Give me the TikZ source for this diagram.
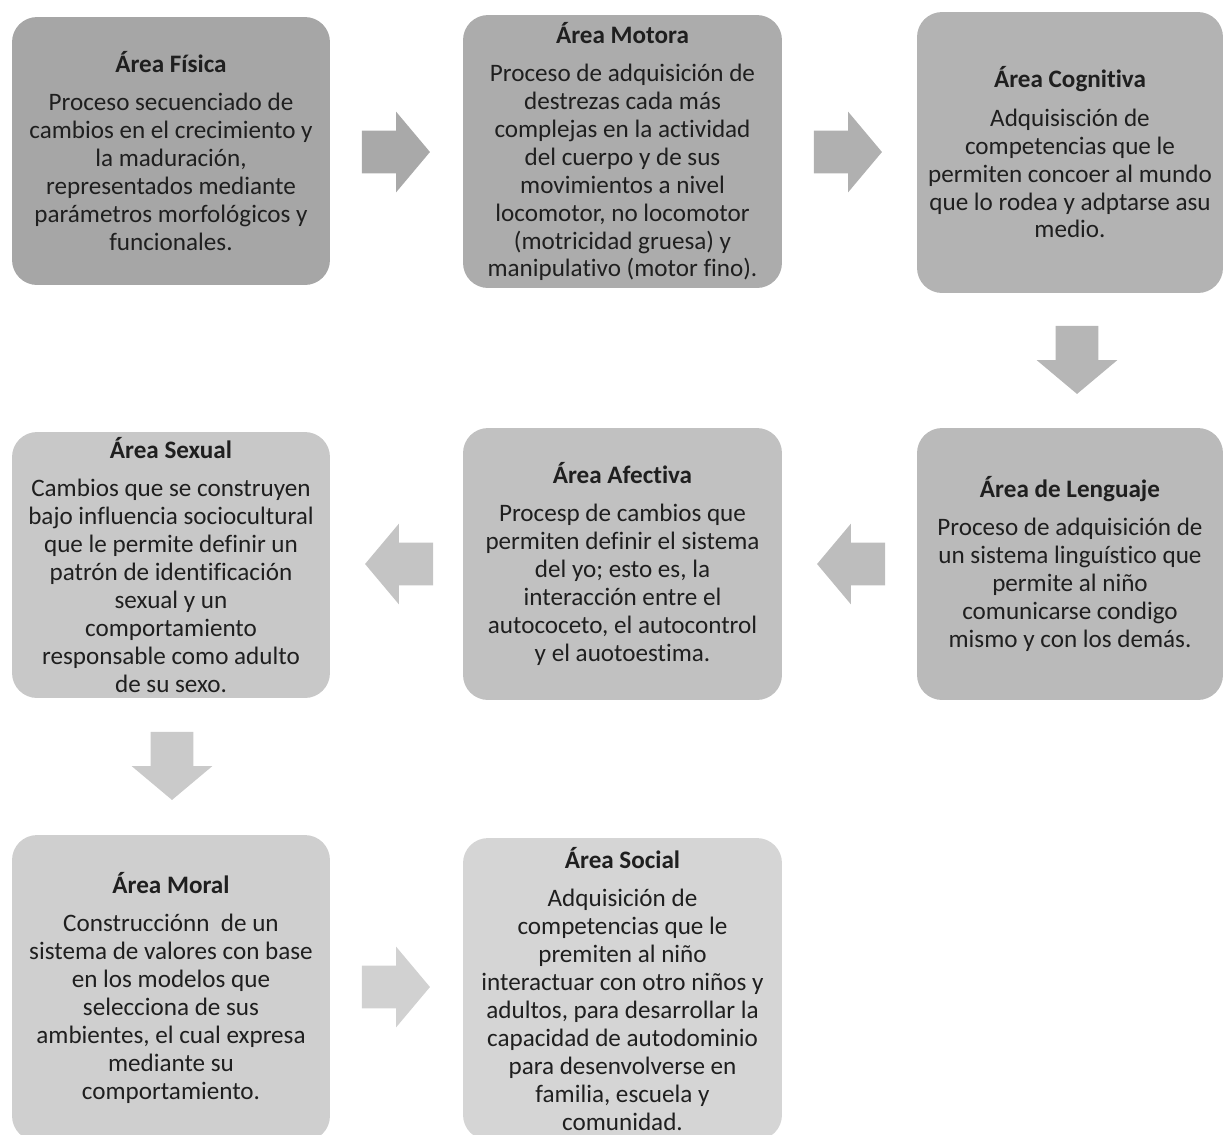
\documentclass[tikz,border=0pt]{standalone}
\usepackage{fontspec}
\setmainfont{Carlito}[Ligatures=NoCommon]
\usetikzlibrary{shapes.arrows}

\begin{document}
\begin{tikzpicture}[x=0.02cm,y=-0.02cm,
  area/.style={rounded corners=0.5cm,inner sep=0pt,align=center,
               font=\fontsize{14.3}{15.9}\selectfont,text=black!88},
  flecha/.style={single arrow,minimum height=1.36cm,
                 single arrow head extend=0.38cm,single arrow tip angle=100},
  flechaH/.style={flecha,inner xsep=0pt,inner ysep=0.42cm},
  flechaV/.style={flecha,inner xsep=0.42cm,inner ysep=0pt,shape border rotate=270},
]
\useasboundingbox (0,0) rectangle (1224,1134);
\clip (0,0) rectangle (1224,1134);

% First row
\node[area,fill=black!35,minimum width=6.36cm,minimum height=5.36cm] (fisica) at (171,151)
  {\textbf{Área Física}\\[5.9pt]
   Proceso secuenciado de\\
   cambios en el crecimiento y\\
   la maduración,\\
   representados mediante\\
   parámetros morfológicos y\\
   funcionales.};
\node[area,fill=black!32.5,minimum width=6.38cm,minimum height=5.46cm] (motora) at (622.5,151.5)
  {\textbf{Área Motora}\\[5.9pt]
   Proceso de adquisición de\\
   destrezas cada más\\
   complejas en la actividad\\
   del cuerpo y de sus\\
   movimientos a nivel\\
   locomotor, no locomotor\\
   (motricidad gruesa) y\\
   manipulativo (motor fino).};
\node[area,fill=black!29.8,minimum width=6.12cm,minimum height=5.62cm] (cognitiva) at (1070,152.5)
  {\textbf{Área Cognitiva}\\[5.9pt]
   Adquisisción de\\
   competencias que le\\
   permiten concoer al mundo\\
   que lo rodea y adptarse asu\\
   medio.};

% Second row
\node[area,fill=black!27.1,minimum width=6.12cm,minimum height=5.44cm] (lenguaje) at (1070,564)
  {\textbf{Área de Lenguaje}\\[5.9pt]
   Proceso de adquisición de\\
   un sistema linguístico que\\
   permite al niño\\
   comunicarse condigo\\
   mismo y con los demás.};
\node[area,fill=black!24.3,minimum width=6.38cm,minimum height=5.44cm] (afectiva) at (622.5,564)
  {\textbf{Área Afectiva}\\[5.9pt]
   Procesp de cambios que\\
   permiten definir el sistema\\
   del yo; esto es, la\\
   interacción entre el\\
   autococeto, el autocontrol\\
   y el auotoestima.};
\node[area,fill=black!21.6,minimum width=6.36cm,minimum height=5.32cm] (sexual) at (171,565)
  {\textbf{Área Sexual}\\[5.9pt]
   Cambios que se construyen\\
   bajo influencia sociocultural\\
   que le permite definir un\\
   patrón de identificación\\
   sexual y un\\
   comportamiento\\
   responsable como adulto\\
   de su sexo.};

% Third row
\node[area,fill=black!18.8,minimum width=6.36cm,minimum height=6.12cm] (moral) at (171,988)
  {\textbf{Área Moral}\\[5.9pt]
   Construcciónn~ de un\\
   sistema de valores con base\\
   en los modelos que\\
   selecciona de sus\\
   ambientes, el cual expresa\\
   mediante su\\
   comportamiento.};
\node[area,fill=black!16.5,minimum width=6.38cm,minimum height=6.04cm] (social) at (622.5,989)
  {\textbf{Área Social}\\[5.9pt]
   Adquisición de\\
   competencias que le\\
   premiten al niño\\
   interactuar con otro niños y\\
   adultos, para desarrollar la\\
   capacidad de autodominio\\
   para desenvolverse en\\
   familia, escuela y\\
   comunidad.};

% Block arrows
\node[flechaH,fill=black!33.7] (f1) at (387,152) {};
\node[flechaH,fill=black!31] (f2) at (839,152) {};
\node[flechaV,fill=black!28.6] (f3) at (1077,351) {};
\node[flechaH,fill=black!25.9,shape border rotate=180] (f4) at (860,564) {};
\node[flechaH,fill=black!23,shape border rotate=180] (f5) at (408,564) {};
\node[flechaV,fill=black!20.8] (f6) at (172,757) {};
\node[flechaH,fill=black!18] (f7) at (387,987) {};

\end{tikzpicture}
\end{document}
